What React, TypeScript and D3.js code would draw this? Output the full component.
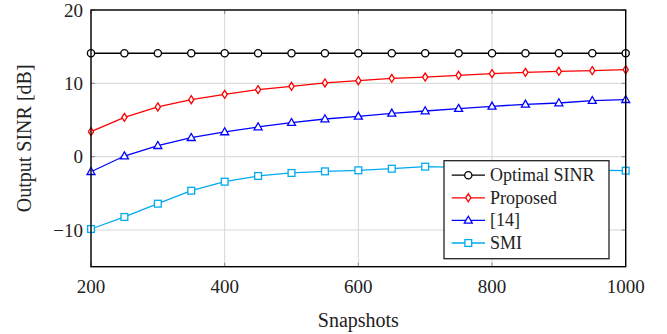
import React from "react";
import * as d3 from "d3";

const snapshots = [200, 250, 300, 350, 400, 450, 500, 550, 600, 650, 700, 750, 800, 850, 900, 950, 1000];
const optimal = [14.1, 14.1, 14.1, 14.1, 14.1, 14.1, 14.1, 14.1, 14.1, 14.1, 14.1, 14.1, 14.1, 14.1, 14.1, 14.1, 14.1];
const proposed = [3.41, 5.36, 6.78, 7.77, 8.5, 9.14, 9.6, 10.05, 10.36, 10.68, 10.86, 11.1, 11.32, 11.5, 11.64, 11.73, 11.86];
const ref14 = [-2.05, 0.09, 1.5, 2.59, 3.37, 4.05, 4.64, 5.14, 5.5, 5.91, 6.23, 6.55, 6.87, 7.14, 7.32, 7.64, 7.77];
const smi = [-9.86, -8.22, -6.41, -4.64, -3.41, -2.63, -2.22, -2.0, -1.86, -1.64, -1.36, -1.45, -1.55, -1.65, -1.75, -1.85, -1.91];

const xTicks = [200, 400, 600, 800, 1000];
const yTicks = [-10, 0, 10, 20];

type Marker = "circle" | "diamond" | "triangle" | "square";
const series: { name: string; values: number[]; color: string; marker: Marker }[] = [
  { name: "Optimal SINR", values: optimal, color: "#000000", marker: "circle" },
  { name: "Proposed", values: proposed, color: "#ff0000", marker: "diamond" },
  { name: "[14]", values: ref14, color: "#0000ff", marker: "triangle" },
  { name: "SMI", values: smi, color: "#00aaee", marker: "square" },
];

const W = 667, H = 334;
const left = 91, right = 625.7, top = 10, bottom = 266.7;
const font = "'Liberation Serif', 'Times New Roman', serif";

function MarkerShape({ type, x, y, color }: { type: Marker; x: number; y: number; color: string }) {
  const sw = 1.3;
  if (type === "circle") return <circle cx={x} cy={y} r={3.6} fill="white" stroke={color} strokeWidth={sw} />;
  if (type === "diamond")
    return <path d={`M${x},${y - 4} L${x + 2.6},${y} L${x},${y + 4} L${x - 2.6},${y} Z`} fill="white" stroke={color} strokeWidth={sw} />;
  if (type === "triangle")
    return <path d={`M${x},${y - 4.2} L${x + 4},${y + 2.8} L${x - 4},${y + 2.8} Z`} fill="white" stroke={color} strokeWidth={sw} />;
  return <rect x={x - 3.4} y={y - 3.4} width={6.8} height={6.8} fill="white" stroke={color} strokeWidth={sw} />;
}

export default function App() {
  const x = d3.scaleLinear().domain([200, 1000]).range([left, right]);
  const y = d3.scaleLinear().domain([-15, 20]).range([bottom, top]);
  const line = d3.line<number>().x((_, i) => x(snapshots[i])).y((d) => y(d));

  const lgX = 444, lgY = 160.7, lgW = 165, lgH = 98;
  const rowY = (i: number) => lgY + 14.5 + i * 22.6;

  return (
    <svg width={W} height={H} style={{ position: "absolute", left: 0, top: 0 }} fontFamily={font}>
      <rect x={0} y={0} width={W} height={H} fill="white" />
      {/* grid */}
      {xTicks.map((t) => (
        <line key={"gx" + t} x1={x(t)} x2={x(t)} y1={top} y2={bottom} stroke="#d6d6d6" strokeWidth={1} />
      ))}
      {yTicks.map((t) => (
        <line key={"gy" + t} x1={left} x2={right} y1={y(t)} y2={y(t)} stroke="#d6d6d6" strokeWidth={1} />
      ))}
      {/* ticks inward */}
      {xTicks.map((t) => (
        <g key={"tx" + t}>
          <line x1={x(t)} x2={x(t)} y1={bottom} y2={bottom - 4} stroke="#888" strokeWidth={1} />
          <line x1={x(t)} x2={x(t)} y1={top} y2={top + 4} stroke="#888" strokeWidth={1} />
        </g>
      ))}
      {yTicks.map((t) => (
        <g key={"ty" + t}>
          <line x1={left} x2={left + 4} y1={y(t)} y2={y(t)} stroke="#888" strokeWidth={1} />
          <line x1={right} x2={right - 4} y1={y(t)} y2={y(t)} stroke="#888" strokeWidth={1} />
        </g>
      ))}
      {/* series */}
      {series.map((s) => (
        <g key={s.name}>
          <path d={line(s.values) || ""} fill="none" stroke={s.color} strokeWidth={1.3} />
          {s.values.map((v, i) => (
            <MarkerShape key={i} type={s.marker} x={x(snapshots[i])} y={y(v)} color={s.color} />
          ))}
        </g>
      ))}
      {/* frame */}
      <rect x={left} y={top} width={right - left} height={bottom - top} fill="none" stroke="#000" strokeWidth={1.4} />
      {/* tick labels */}
      {xTicks.map((t) => (
        <text key={"lx" + t} x={x(t)} y={292.5} textAnchor="middle" fontSize={19} fill="#222">
          {t}
        </text>
      ))}
      {yTicks.map((t) => (
        <text key={"ly" + t} x={83} y={y(t)} dy="0.35em" textAnchor="end" fontSize={19} fill="#222">
          {t < 0 ? "\u2212" + Math.abs(t) : t}
        </text>
      ))}
      {/* axis labels */}
      <text x={(left + right) / 2} y={327} textAnchor="middle" fontSize={20} fill="#222">
        Snapshots
      </text>
      <text transform={`translate(31,${(top + bottom) / 2}) rotate(-90)`} textAnchor="middle" fontSize={20} fill="#222">
        Output SINR [dB]
      </text>
      {/* legend */}
      <rect x={lgX} y={lgY} width={lgW} height={lgH} fill="white" stroke="#222" strokeWidth={1.3} />
      {series.map((s, i) => (
        <g key={"lg" + s.name}>
          <line x1={451.7} x2={485} y1={rowY(i)} y2={rowY(i)} stroke={s.color} strokeWidth={1.3} />
          <MarkerShape type={s.marker} x={468.3} y={rowY(i)} color={s.color} />
          <text x={490} y={rowY(i)} dy="0.33em" fontSize={18} fill="#222">
            {s.name}
          </text>
        </g>
      ))}
    </svg>
  );
}
